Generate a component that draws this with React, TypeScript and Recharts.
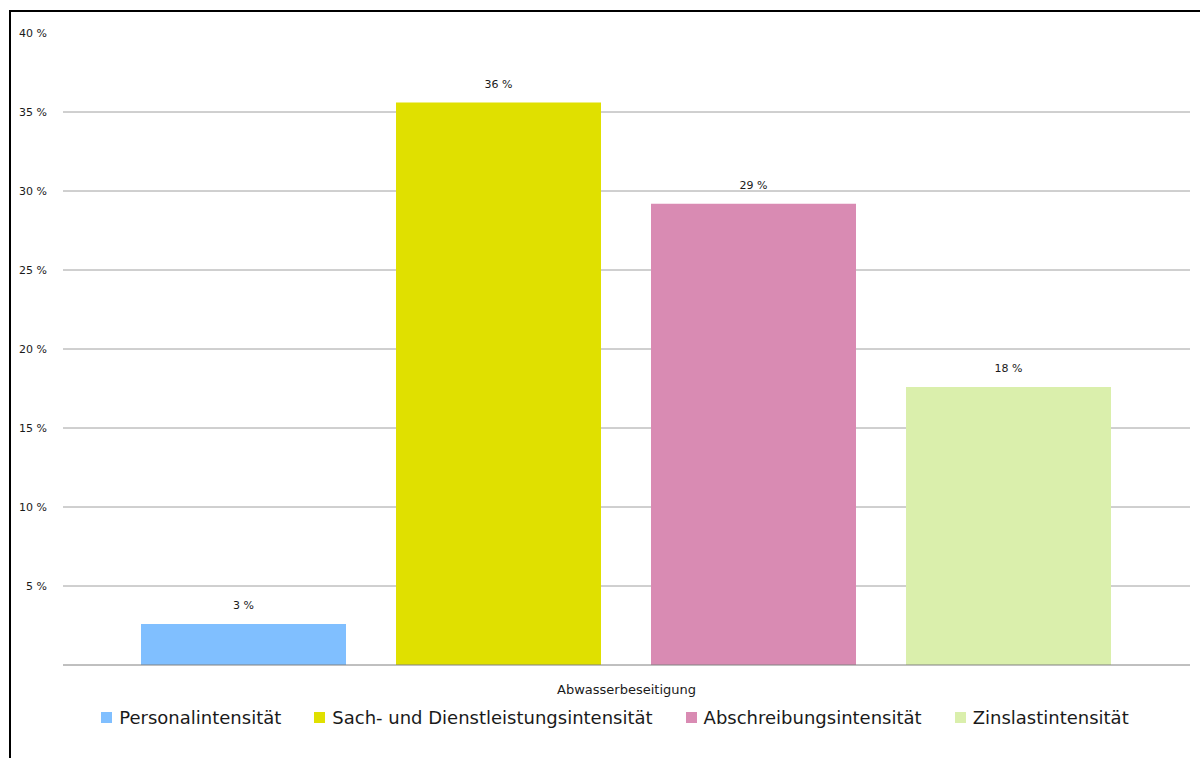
import { BarChart, Bar, XAxis, YAxis, CartesianGrid, LabelList } from 'recharts';

const category = 'Abwasserbeseitigung';

const seriesNames = [
  'Personalintensität',
  'Sach- und Dienstleistungsintensität',
  'Abschreibungsintensität',
  'Zinslastintensität',
];

const seriesValues = [2.6, 35.6, 29.2, 17.6];

const seriesColors = ['#80BFFF', '#E0E000', '#D98BB3', '#DAEFAC'];

const yTicks = [0, 5, 10, 15, 20, 25, 30, 35, 40];

const data = [
  seriesNames.reduce(
    (row, name, i) => ({ ...row, [name]: seriesValues[i] }),
    { name: category } as Record<string, string | number>
  ),
];

const font = '"DejaVu Sans", Verdana, sans-serif';

export default function App() {
  return (
    <div style={{ position: 'absolute', left: 0, top: 0, width: 1200, height: 758, background: '#fff', overflow: 'hidden' }}>
      <div
        style={{
          position: 'absolute',
          left: 9,
          top: 10,
          width: 1300,
          height: 900,
          borderLeft: '2px solid #000',
          borderTop: '2px solid #000',
        }}
      />
      <div style={{ position: 'absolute', left: 0, top: 0 }}>
        <BarChart
          width={1200}
          height={758}
          data={data}
          margin={{ top: 33, right: 10, bottom: 63, left: 0 }}
          barCategoryGap={78}
          barGap={50}
        >
          <CartesianGrid vertical={false} stroke="#a0a0a0" horizontalValues={[5, 10, 15, 20, 25, 30, 35]} />
          <XAxis
            dataKey="name"
            height={30}
            axisLine={{ stroke: '#808080' }}
            tickLine={false}
            tick={{ fontFamily: font, fontSize: 13, fill: '#1a1a1a' }}
            tickMargin={14}
          />
          <YAxis
            width={63}
            domain={[0, 40]}
            ticks={yTicks}
            axisLine={false}
            tickLine={false}
            tickMargin={10}
            tick={{ fontFamily: font, fontSize: 11, fill: '#1a1a1a' }}
            tickFormatter={(v: number) => (v === 0 ? '' : `${v} %`)}
          />
          {seriesNames.map((name, i) => (
            <Bar key={name} dataKey={name} fill={seriesColors[i]} isAnimationActive={false}>
              <LabelList
                dataKey={name}
                position="top"
                offset={15}
                style={{ fontFamily: font, fontSize: 11, fill: '#1a1a1a' }}
                formatter={(v: any) => `${Math.round(Number(v))} %`}
              />
            </Bar>
          ))}
        </BarChart>
      </div>
      <div
        style={{
          position: 'absolute',
          left: 0,
          top: 707,
          width: 1230,
          display: 'flex',
          justifyContent: 'center',
          fontFamily: font,
          fontSize: 18,
          color: '#1a1a1a',
        }}
      >
        {seriesNames.map((name, i) => (
          <div key={name} style={{ display: 'flex', alignItems: 'center', marginRight: i < seriesNames.length - 1 ? 33 : 0 }}>
            <span style={{ width: 11, height: 11, background: seriesColors[i], display: 'inline-block', marginRight: 7 }} />
            <span>{name}</span>
          </div>
        ))}
      </div>
    </div>
  );
}
